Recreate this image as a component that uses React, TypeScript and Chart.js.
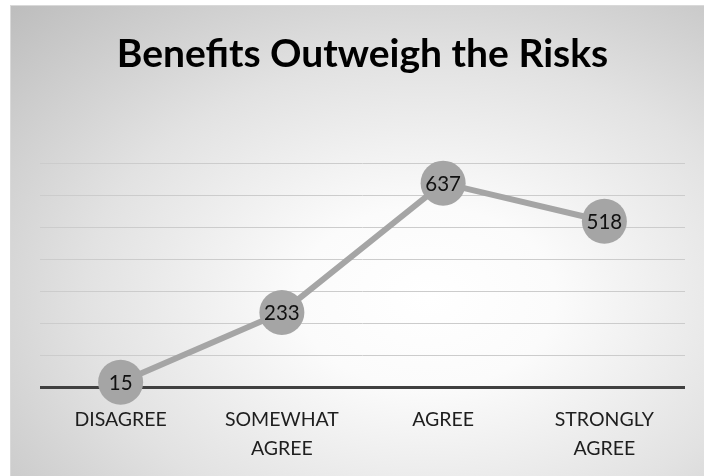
import React, { useEffect, useRef } from "react";
import { Chart, registerables } from "chart.js";

Chart.register(...registerables);

const categories: (string | string[])[] = ["DISAGREE", ["SOMEWHAT", "AGREE"], "AGREE", ["STRONGLY", "AGREE"]];
const values: number[] = [15, 233, 637, 518];
const chartTitle = "Benefits Outweigh the Risks";

const FONT = "Lato, 'Open Sans', sans-serif";

const dataLabelPlugin = {
  id: "dataLabels",
  afterDatasetsDraw(chart: any) {
    const ctx = chart.ctx;
    const meta = chart.getDatasetMeta(0);
    ctx.save();
    ctx.font = `20.5px ${FONT}`;
    ctx.fillStyle = "#111111";
    ctx.textAlign = "center";
    ctx.textBaseline = "middle";
    meta.data.forEach((pt: any, i: number) => {
      ctx.fillText(String(values[i]), pt.x, pt.y + 1);
    });
    ctx.restore();
  },
};

export default function App() {
  const ref = useRef<HTMLCanvasElement | null>(null);
  useEffect(() => {
    if (!ref.current) return;
    const chart = new Chart(ref.current, {
      type: "line",
      data: {
        labels: categories,
        datasets: [
          {
            data: values,
            borderColor: "#a5a5a5",
            backgroundColor: "#a5a5a5",
            borderWidth: 6,
            pointRadius: 22.5,
            pointHoverRadius: 22.5,
            pointBackgroundColor: "#a5a5a5",
            pointBorderWidth: 0,
            tension: 0,
            clip: false as any,
          },
        ],
      },
      options: {
        animation: false,
        responsive: false,
        maintainAspectRatio: false,
        events: [],
        layout: { autoPadding: false, padding: { left: 30, right: 19, top: 0, bottom: 0 } },
        plugins: {
          legend: { display: false },
          tooltip: { enabled: false },
          title: {
            display: true,
            text: chartTitle,
            color: "#000000",
            font: { family: FONT, size: 39, weight: "bold", lineHeight: 1.2 },
            padding: { top: 26, bottom: 85.2 },
          },
        },
        scales: {
          x: {
            offset: true,
            grid: { display: false, drawTicks: false },
            border: { display: false },
            ticks: {
              color: "#1e1e1e",
              font: { family: FONT, size: 19.5, lineHeight: 1.5 },
              padding: 18,
              maxRotation: 0,
              autoSkip: false,
            },
            afterFit: (s: any) => {
              s.height = 89;
              s.paddingLeft = 0;
              s.paddingRight = 0;
            },
          },
          y: {
            min: 0,
            max: 700,
            ticks: { display: false, stepSize: 100 },
            border: { display: false },
            grid: {
              drawTicks: false,
              color: (c: any) => (c.tick && c.tick.value === 0 ? "#404040" : "#cccccc"),
              lineWidth: (c: any) => (c.tick && c.tick.value === 0 ? 3 : 1),
            },
            afterFit: (s: any) => {
              s.width = 0;
            },
          },
        },
      },
      plugins: [dataLabelPlugin],
    });
    return () => chart.destroy();
  }, []);

  return (
    <div
      style={{
        position: "absolute",
        left: 10,
        top: 5,
        width: 694,
        height: 471,
        borderLeft: "1px solid #d9d9d9",
        borderTop: "1px solid #d9d9d9",
        boxSizing: "border-box",
        background:
          "radial-gradient(ellipse farthest-corner at 60% 62%, #ffffff 0%, #fbfbfb 22%, #e2e2e2 58%, #bdbdbd 100%)",
        overflow: "hidden",
      }}
    >
      <canvas ref={ref} width={694} height={471} style={{ position: "absolute", left: -1, top: -1, display: "block" }} />
    </div>
  );
}
